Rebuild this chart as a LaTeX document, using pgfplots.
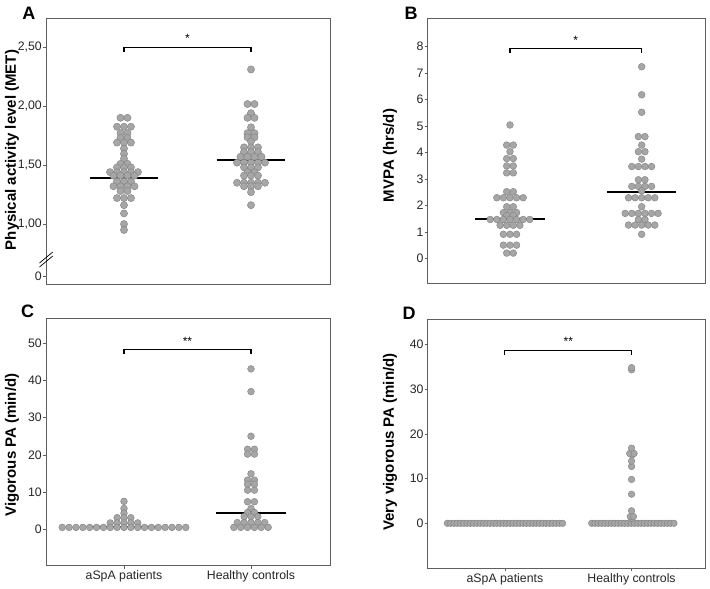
\documentclass[border=0pt]{standalone}
\usepackage{fontspec}
\setmainfont{Liberation Sans}
\setsansfont{Liberation Sans}
\usepackage{pgfplots}
\pgfplotsset{compat=1.18}
\definecolor{dotfill}{RGB}{166,166,166}
\definecolor{dotedge}{RGB}{128,128,128}
\definecolor{framec}{RGB}{95,95,95}
\pgfplotsset{
  panel/.style={
    scale only axis, anchor=north west, clip=false,
    axis line style={framec, line width=0.8pt},
    tick style={framec, line width=0.6pt},
    major tick length=3pt, tick align=outside, tick pos=left,
    tick label style={font=\fontsize{12.3}{14}\selectfont, text=black!85},
    /pgf/number format/assume math mode=true,
    yticklabel style={inner sep=1pt},
    xticklabel style={inner sep=2pt},
  },
  dots/.style={only marks, mark=*, mark size=3.4pt,
    mark options={fill=dotfill, draw=dotedge, line width=0.4pt}},
  med/.style={black, line width=2pt},
  brk/.style={black, line width=1.1pt},
}
\newcommand{\ylab}[1]{{\fontsize{15}{17}\selectfont\bfseries #1}}
\begin{document}
\begin{tikzpicture}
\useasboundingbox (0,0) rectangle (710pt,-589pt);

% ---------------- Panel A ----------------
\begin{axis}[panel, at={(46pt,-18pt)}, width=284pt, height=266pt,
  xmin=-0.614, xmax=1.622, ymin=0.492, ymax=2.746,
  xtick=\empty,
  ytick={0.56,1,1.5,2,2.5}, yticklabels={0,{1,00},{1,50},{2,00},{2,50}}]
\addplot[dots, mark size=3.6pt] coordinates {
(-0.0275,1.90) (0.0275,1.90)
(-0.055,1.825) (0,1.825) (0.055,1.825)
(-0.0275,1.77) (0.0275,1.77)
(-0.0275,1.73) (0.0275,1.73)
(-0.055,1.69) (0,1.69) (0.055,1.69)
(0,1.64) (0,1.595) (0,1.555)
(-0.0275,1.51) (0.0275,1.51)
(-0.055,1.48) (0,1.48) (0.055,1.48)
(-0.11,1.44) (-0.055,1.44) (0,1.44) (0.055,1.44) (0.11,1.44)
(-0.0825,1.41) (-0.0275,1.41) (0.0275,1.41) (0.0825,1.41)
(-0.055,1.36) (0,1.36) (0.055,1.36)
(-0.0825,1.32) (-0.0275,1.32) (0.0275,1.32) (0.0825,1.32)
(-0.0275,1.28) (0.0275,1.28)
(-0.055,1.22) (0,1.22) (0.055,1.22)
(0,1.16) (0,1.09) (0,1.00) (0,0.95)
};
\addplot[dots, mark size=3.6pt] coordinates {
(1,2.31)
(0.9725,2.017) (1.0275,2.017)
(1,1.94)
(0.9725,1.90) (1.0275,1.90)
(1,1.82)
(0.9725,1.77) (1.0275,1.77)
(0.9725,1.735) (1.0275,1.735)
(1,1.70)
(0.945,1.65) (1,1.65) (1.055,1.65)
(0.945,1.61) (1,1.61) (1.055,1.61)
(0.9175,1.57) (0.9725,1.57) (1.0275,1.57) (1.0825,1.57)
(0.89,1.52) (0.945,1.52) (1,1.52) (1.055,1.52) (1.11,1.52)
(0.945,1.48) (1,1.48) (1.055,1.48)
(0.9725,1.44) (1.0275,1.44)
(0.945,1.41) (1,1.41) (1.055,1.41)
(0.89,1.35) (0.945,1.35) (1,1.35) (1.055,1.35) (1.11,1.35)
(0.945,1.32) (1,1.32) (1.055,1.32)
(1,1.27) (1,1.16)
};
\addplot[med] coordinates {(-0.27,1.39) (0.27,1.39)};
\addplot[med] coordinates {(0.73,1.54) (1.27,1.54)};
\addplot[brk] coordinates {(0,2.455) (0,2.494) (1,2.494) (1,2.455)};
\node[font=\fontsize{12}{12}\selectfont] at (axis cs:0.5,2.575) {*};
\end{axis}
\draw[black, line width=0.7pt] (39.5pt,-267pt) -- (52.7pt,-256pt);
\draw[black, line width=0.7pt] (39.5pt,-263pt) -- (52.7pt,-252pt);

% ---------------- Panel B ----------------
\begin{axis}[panel, at={(427.7pt,-18pt)}, width=277.3pt, height=265pt,
  xmin=-0.625, xmax=1.481, ymin=-0.93, ymax=9.08,
  xtick=\empty, ytick={0,1,...,8}]
\addplot[dots] coordinates {
(0,5.04)
(-0.025,4.28) (0.025,4.28)
(0,4.03)
(-0.025,3.77) (0.025,3.77)
(-0.025,3.49) (0.025,3.49)
(-0.025,3.23) (0.025,3.23)
(-0.025,2.52) (0.025,2.52)
(-0.1,2.29) (-0.05,2.29) (0,2.29) (0.05,2.29) (0.1,2.29)
(-0.025,1.95) (0.025,1.95)
(-0.05,1.73) (0,1.73) (0.05,1.73)
(-0.025,1.62) (0.025,1.62)
(-0.15,1.47) (-0.1,1.47) (-0.05,1.47) (0,1.47) (0.05,1.47) (0.1,1.47) (0.15,1.47)
(-0.075,1.25) (-0.025,1.25) (0.025,1.25) (0.075,1.25)
(-0.05,0.91) (0,0.91) (0.05,0.91)
(-0.05,0.50) (0,0.50) (0.05,0.50)
(-0.025,0.20) (0.025,0.20)
};
\addplot[dots] coordinates {
(1,7.24) (1,6.18) (1,5.52)
(0.975,4.60) (1.025,4.60)
(1,4.28)
(0.975,4.03) (1.025,4.03)
(1,3.75)
(0.925,3.47) (0.975,3.47) (1.025,3.47) (1.075,3.47)
(0.975,2.97) (1.025,2.97)
(0.925,2.72) (0.975,2.72) (1.025,2.72) (1.075,2.72)
(1,2.55)
(0.9,2.29) (0.95,2.29) (1,2.29) (1.05,2.29) (1.1,2.29)
(1,1.95)
(0.875,1.70) (0.925,1.70) (0.975,1.70) (1.025,1.70) (1.075,1.70) (1.125,1.70)
(0.975,1.47) (1.025,1.47)
(0.9,1.26) (0.95,1.26) (1,1.26) (1.05,1.26) (1.1,1.26)
(1,0.91)
};
\addplot[med] coordinates {(-0.263,1.50) (0.263,1.50)};
\addplot[med] coordinates {(0.737,2.50) (1.263,2.50)};
\addplot[brk] coordinates {(0,7.77) (0,7.93) (1,7.93) (1,7.77)};
\node[font=\fontsize{12}{12}\selectfont] at (axis cs:0.5,8.25) {*};
\end{axis}

% ---------------- Panel C ----------------
\begin{axis}[panel, at={(46pt,-318.3pt)}, width=284pt, height=247.4pt,
  xmin=-0.614, xmax=1.622, ymin=-9.8, ymax=56.7,
  xtick={0,1}, xticklabels={aSpA patients,Healthy controls},
  ytick={0,10,...,50}]
\addplot[dots] coordinates {
(0,7.5) (0,5.6) (0,4.3)
(-0.054,3.1) (0,3.1) (0.054,3.1)
(-0.108,1.7) (-0.054,1.7) (0,1.7) (0.054,1.7) (0.108,1.7)
(-0.486,0.5) (-0.432,0.5) (-0.378,0.5) (-0.324,0.5) (-0.27,0.5) (-0.216,0.5)
(-0.162,0.5) (-0.108,0.5) (-0.054,0.5) (0,0.5) (0.054,0.5) (0.108,0.5)
(0.162,0.5) (0.216,0.5) (0.27,0.5) (0.324,0.5) (0.378,0.5) (0.432,0.5) (0.486,0.5)
};
\addplot[dots] coordinates {
(1,43.1) (1,37.0) (1,25.0)
(0.973,21.5) (1.027,21.5)
(0.973,20.2) (1.027,20.2)
(1,14.9)
(0.973,13.2) (1.027,13.2)
(0.973,12.1) (1.027,12.1)
(0.973,10.5) (1.027,10.5)
(0.973,7.4) (1.027,7.4)
(1,5.6)
(0.973,4.5) (1.027,4.5)
(0.946,3.4) (1,3.4) (1.054,3.4)
(0.892,1.8) (0.946,1.8) (1,1.8) (1.054,1.8) (1.108,1.8)
(0.865,0.5) (0.919,0.5) (0.973,0.5) (1.027,0.5) (1.081,0.5) (1.135,0.5)
};
\addplot[med] coordinates {(-0.285,0.5) (0.255,0.5)};
\addplot[med] coordinates {(0.725,4.3) (1.275,4.3)};
\addplot[brk] coordinates {(0,47.0) (0,48.4) (1,48.4) (1,47.0)};
\node[font=\fontsize{12}{12}\selectfont] at (axis cs:0.5,50.6) {**};
\end{axis}

% ---------------- Panel D ----------------
\begin{axis}[panel, at={(427.7pt,-319.3pt)}, width=277.3pt, height=249pt,
  xmin=-0.61, xmax=1.58, ymin=-10.06, ymax=45.6,
  xtick={0,1}, xticklabels={aSpA patients,Healthy controls},
  ytick={0,10,...,40}]
\addplot[dots, mark size=3.3pt] coordinates {
(-0.455,0) (-0.429,0) (-0.403,0) (-0.377,0) (-0.351,0) (-0.325,0) (-0.299,0)
(-0.273,0) (-0.247,0) (-0.221,0) (-0.195,0) (-0.169,0) (-0.143,0) (-0.117,0)
(-0.091,0) (-0.065,0) (-0.039,0) (-0.013,0) (0.013,0) (0.039,0) (0.065,0)
(0.091,0) (0.117,0) (0.143,0) (0.169,0) (0.195,0) (0.221,0) (0.247,0)
(0.273,0) (0.299,0) (0.325,0) (0.351,0) (0.377,0) (0.403,0) (0.429,0) (0.455,0)
};
\addplot[dots, mark size=3.3pt] coordinates {
(0.685,0) (0.711,0) (0.737,0) (0.763,0) (0.789,0) (0.815,0) (0.841,0)
(0.867,0) (0.893,0) (0.919,0) (0.945,0) (0.971,0) (0.997,0) (1.023,0)
(1.049,0) (1.075,0) (1.101,0) (1.127,0) (1.153,0) (1.179,0) (1.205,0)
(1.231,0) (1.257,0) (1.283,0) (1.309,0) (1.335,0)
(1.0,1.1) (0.99,1.5) (1.015,1.5) (1.0,2.8) (1.0,6.5) (1.0,9.8)
(1.0,12.7) (1.0,13.9) (1.005,15.3) (0.985,15.6) (1.02,15.6) (1.0,16.8)
(1.0,34.3) (1.0,34.8)
};
\addplot[med] coordinates {(-0.276,0) (0.276,0)};
\addplot[med] coordinates {(0.724,0) (1.276,0)};
\addplot[brk] coordinates {(0,37.6) (0,38.7) (1,38.7) (1,37.6)};
\node[font=\fontsize{12}{12}\selectfont] at (axis cs:0.5,40.6) {**};
\end{axis}

% ---------------- labels ----------------
\node[rotate=90] at (12pt,-150pt) {\ylab{Physical activity level (MET)}};
\node[rotate=90] at (390pt,-155.5pt) {\ylab{MVPA (hrs/d)}};
\node[rotate=90] at (12pt,-445pt) {\ylab{Vigorous PA (min/d)}};
\node[rotate=90] at (390pt,-442pt) {\ylab{Very vigorous PA (min/d)}};

\node[font=\fontsize{18}{20}\selectfont\bfseries] at (28.8pt,-13.7pt) {A};
\node[font=\fontsize{18}{20}\selectfont\bfseries] at (411pt,-13.7pt) {B};
\node[font=\fontsize{18}{20}\selectfont\bfseries] at (27.5pt,-311pt) {C};
\node[font=\fontsize{18}{20}\selectfont\bfseries] at (409pt,-313.3pt) {D};
\end{tikzpicture}
\end{document}
